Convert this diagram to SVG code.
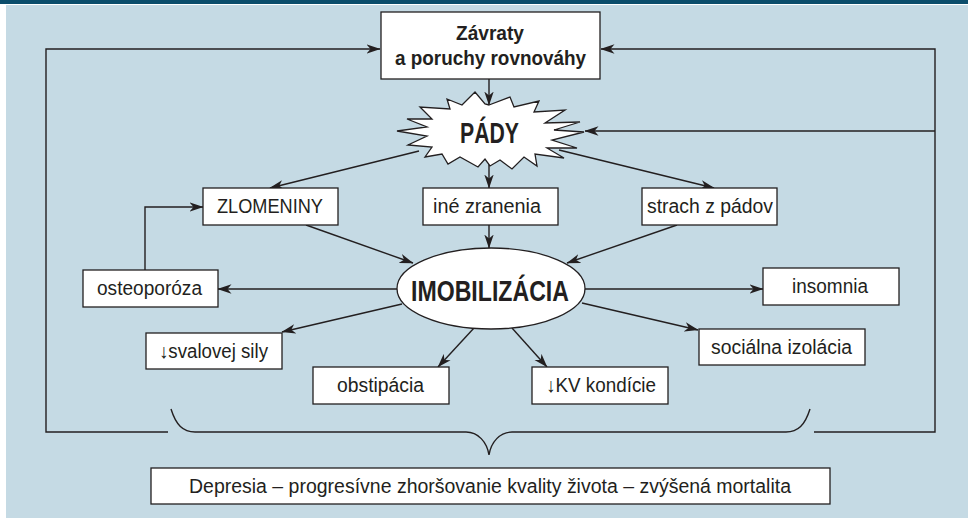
<svg xmlns="http://www.w3.org/2000/svg" width="968" height="519" viewBox="0 0 968 519">
<style>
.box{fill:#ffffff;stroke:#231f20;stroke-width:1.3}
.ln{fill:none;stroke:#231f20;stroke-width:1.4}
.t{font-family:"Liberation Sans","DejaVu Sans",Arial,sans-serif;font-size:20px;fill:#231f20;text-anchor:middle}
.b{font-weight:bold}
.ar{font-size:15px}
</style>
<defs>
<marker id="ah" viewBox="0 0 14 10" refX="13.5" refY="5" markerWidth="14" markerHeight="10" markerUnits="userSpaceOnUse" orient="auto">
<path d="M0,0.3 L14,5 L0,9.7 L4,5 z" fill="#231f20"/>
</marker>
</defs>
<rect x="0" y="0" width="968" height="519" fill="#ffffff"/>
<rect x="0" y="0" width="968" height="4" fill="#0b4d6b"/>
<rect x="6" y="5" width="962" height="513" fill="#c5dae4"/>

<g id="connectors">
<path class="ln" d="M168,432 H46 V49 H380" marker-end="url(#ah)"/>
<path class="ln" d="M814,432 H935 V49 H601" marker-end="url(#ah)"/>
<path class="ln" d="M935,131 H585" marker-end="url(#ah)"/>
<path class="ln" d="M489,79 V105" marker-end="url(#ah)"/>
<path class="ln" d="M489,163 V188" marker-end="url(#ah)"/>
<path class="ln" d="M489,225 V248" marker-end="url(#ah)"/>
<path class="ln" d="M419,151 L270,188" marker-end="url(#ah)"/>
<path class="ln" d="M559,150 L714,188" marker-end="url(#ah)"/>
<path class="ln" d="M306,225 L413,263" marker-end="url(#ah)"/>
<path class="ln" d="M677,225 L567,263" marker-end="url(#ah)"/>
<path class="ln" d="M397,289 H218" marker-end="url(#ah)"/>
<path class="ln" d="M145,270 V207 H203" marker-end="url(#ah)"/>
<path class="ln" d="M585,289 H763" marker-end="url(#ah)"/>
<path class="ln" d="M402,304 L282,332" marker-end="url(#ah)"/>
<path class="ln" d="M474,328 L438,367" marker-end="url(#ah)"/>
<path class="ln" d="M512,328 L547,367" marker-end="url(#ah)"/>
<path class="ln" d="M582,303 L698,330" marker-end="url(#ah)"/>
<path class="ln" d="M171,409 C176,425 183,432 195,432 L466,432 C478,432 487,442 489,455 C491,442 500,432 512,432 L786,432 C798,432 805,425 810,409"/>
</g>

<g id="zavraty">
<rect class="box" x="381" y="12" width="219" height="67"/>
<text class="t b" x="490" y="40" textLength="68" lengthAdjust="spacingAndGlyphs">Závraty</text>
<text class="t b" x="490.5" y="65" textLength="191" lengthAdjust="spacingAndGlyphs">a poruchy rovnováhy</text>
</g>

<g id="pady">
<polygon points="489,105 510,97 514,107 539,101 534,112 565,110 545,123 580,122 554,130 584,132 552,140 577,148 547,148 564,158 535,154 537,166 524,157 512,169 500,160 490,166 485,159 478,167 460,157 448,164 442,154 425,157 432,147 408,145 427,136 397,131 427,127 407,119 432,119 420,107 450,109 447,99 462,105 475,92 485,104" fill="#ffffff" stroke="#231f20" stroke-width="1.3" stroke-linejoin="miter"/>
<text class="t b" x="489.5" y="143" style="font-size:29px" textLength="59" lengthAdjust="spacingAndGlyphs">PÁDY</text>
</g>

<g id="zlomeniny">
<rect class="box" x="203" y="188" width="135" height="37"/>
<text class="t" x="270" y="213" textLength="106" lengthAdjust="spacingAndGlyphs">ZLOMENINY</text>
</g>

<g id="ine-zranenia">
<rect class="box" x="423" y="188" width="135" height="37"/>
<text class="t" x="487" y="213" textLength="108" lengthAdjust="spacingAndGlyphs">iné zranenia</text>
</g>

<g id="strach">
<rect class="box" x="642" y="188" width="135" height="37"/>
<text class="t" x="710" y="213" textLength="126" lengthAdjust="spacingAndGlyphs">strach z pádov</text>
</g>

<g id="imobilizacia">
<ellipse cx="491" cy="288.5" rx="94" ry="40.5" fill="#ffffff" stroke="#231f20" stroke-width="1.3"/>
<text class="t b" x="490" y="300.5" style="font-size:29px" textLength="158" lengthAdjust="spacingAndGlyphs">IMOBILIZÁCIA</text>
</g>

<g id="osteoporoza">
<rect class="box" x="83" y="270" width="135" height="37"/>
<text class="t" x="149.5" y="295" textLength="105" lengthAdjust="spacingAndGlyphs">osteoporóza</text>
</g>

<g id="insomnia">
<rect class="box" x="763" y="268" width="136" height="37"/>
<text class="t" x="830" y="293" textLength="76" lengthAdjust="spacingAndGlyphs">insomnia</text>
</g>

<g id="svalovej-sily">
<rect class="box" x="146" y="333" width="136" height="36"/>
<text class="t" x="213.5" y="358" textLength="109" lengthAdjust="spacingAndGlyphs">↓svalovej sily</text>
</g>

<g id="obstipacia">
<rect class="box" x="313" y="367" width="136" height="37"/>
<text class="t" x="380.5" y="392" textLength="87" lengthAdjust="spacingAndGlyphs">obstipácia</text>
</g>

<g id="kv-kondicie">
<rect class="box" x="532" y="367" width="136" height="37"/>
<text class="t" x="601" y="392" textLength="110" lengthAdjust="spacingAndGlyphs">↓KV kondície</text>
</g>

<g id="socialna-izolacia">
<rect class="box" x="699" y="329" width="166" height="36"/>
<text class="t" x="781.5" y="354" textLength="141" lengthAdjust="spacingAndGlyphs">sociálna izolácia</text>
</g>

<g id="depresia">
<rect class="box" x="151" y="468" width="679" height="36"/>
<text class="t" x="490" y="493" textLength="602" lengthAdjust="spacingAndGlyphs">Depresia – progresívne zhoršovanie kvality života – zvýšená mortalita</text>
</g>
</svg>
